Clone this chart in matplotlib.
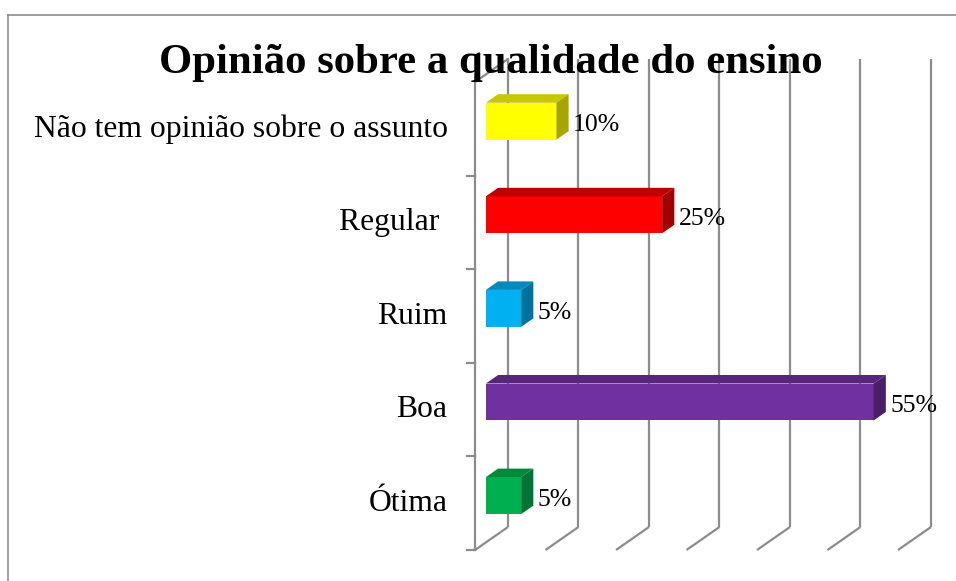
import matplotlib
matplotlib.use("Agg")
import matplotlib.pyplot as plt
from matplotlib.patches import Polygon
from matplotlib.lines import Line2D

# ---- data ----
categories = ["Ótima", "Boa", "Ruim", "Regular ", "Não tem opinião sobre o assunto"]
values = [5, 55, 5, 25, 10]
value_labels = ["5%", "55%", "5%", "25%", "10%"]
front_colors = ["#00B050", "#7030A0", "#00B0F0", "#FF0000", "#FFFF00"]
top_colors = ["#008A3E", "#57257C", "#0089BC", "#C00000", "#C8C800"]
side_colors = ["#007434", "#4A1F6A", "#00729E", "#A00000", "#A6A600"]
grid_values = [0, 10, 20, 30, 40, 50, 60]
title = "Opinião sobre a qualidade do ensino"

SERIF = ["Liberation Serif", "DejaVu Serif"]
W, H = 956, 581
fig = plt.figure(figsize=(W / 100, H / 100), dpi=100)

# outer border (left and top only visible)
fig.add_artist(Line2D([8 / W, 8 / W], [0, 1 - 15 / H], transform=fig.transFigure,
                      color="#8c8c8c", lw=1.2))
fig.add_artist(Line2D([8 / W, 1], [1 - 15 / H, 1 - 15 / H], transform=fig.transFigure,
                      color="#8c8c8c", lw=1.2))

ax = fig.add_axes([475 / W, 31 / H, 423 / W, 468 / H])
ax.set_xlim(0, 60)
ax.set_ylim(0, 5)
ax.axis("off")

DX = 4.68      # depth offset in x (percent units)
DY = 0.246     # depth offset in y (category units)
d0, d1 = 0.33, 0.70
bh = 0.395
gc = "#8c8c8c"
glw = 1.6

# gridlines (floor slants + back wall verticals)
for g in grid_values:
    ax.plot([g, g + DX], [0, DY], color=gc, lw=glw, clip_on=False, solid_capstyle="butt")
    ax.plot([g + DX, g + DX], [DY, 5 + DY], color=gc, lw=glw, clip_on=False, solid_capstyle="butt")
# left wall front edge and top
ax.plot([0, 0], [0, 5], color=gc, lw=glw, clip_on=False)
ax.plot([0, DX], [5, 5 + DY], color=gc, lw=glw, clip_on=False)
# category ticks
for t in range(5):
    ax.plot([-1.1, 0], [t, t], color=gc, lw=glw, clip_on=False)

# bars
for i, (v, fc, tc, sc) in enumerate(zip(values, front_colors, top_colors, side_colors)):
    x0 = d0 * DX
    x1 = x0 + v
    yc = i + 0.5 + d0 * DY
    yb, yt = yc - bh / 2, yc + bh / 2
    ddx = (d1 - d0) * DX
    ddy = (d1 - d0) * DY
    ax.barh(yc, v, height=bh, left=x0, color=fc, edgecolor="none", zorder=3)
    ax.add_patch(Polygon([[x0, yt], [x1, yt], [x1 + ddx, yt + ddy], [x0 + ddx, yt + ddy]],
                         closed=True, facecolor=tc, edgecolor="none", zorder=3, clip_on=False))
    ax.add_patch(Polygon([[x1, yb], [x1, yt], [x1 + ddx, yt + ddy], [x1 + ddx, yb + ddy]],
                         closed=True, facecolor=sc, edgecolor="none", zorder=3, clip_on=False))
    ax.text(x1 + ddx + 0.6, yc - 0.045, value_labels[i], ha="left", va="center",
            fontsize=18.5, family=SERIF, color="black", zorder=4, clip_on=False)

# category labels
for i, c in enumerate(categories):
    ax.text(-3.9, i + 0.5, c, ha="right", va="center", fontsize=22.8,
            family=SERIF, color="black", clip_on=False)

fig.text(491 / W, 1 - 63 / H, title, ha="center", va="center", fontsize=30.8,
         fontweight="bold", family=SERIF, color="black", zorder=10)

fig.savefig("out.png", dpi=100, facecolor="white")
